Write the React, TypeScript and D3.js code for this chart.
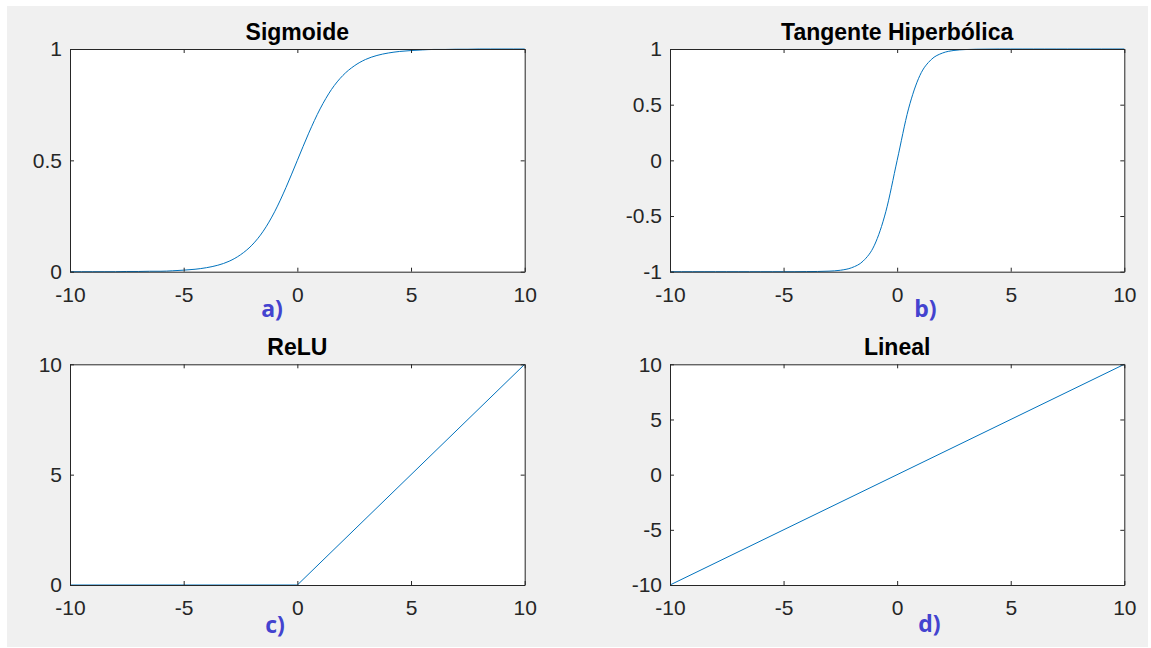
import React, { useEffect, useRef } from 'react';
import * as d3 from 'd3';

// sample points
const xSamples = [
  -10, -9.5, -9, -8.5, -8, -7.5, -7, -6.5, -6, -5.5, -5, -4.5, -4, -3.5, -3, -2.5, -2, -1.5, -1, -0.5,
  0, 0.5, 1, 1.5, 2, 2.5, 3, 3.5, 4, 4.5, 5, 5.5, 6, 6.5, 7, 7.5, 8, 8.5, 9, 9.5, 10,
];
const sigmoidValues = [
  0.0, 0.0, 0.0, 0.0, 0.0, 0.001, 0.001, 0.002, 0.002, 0.004, 0.007, 0.011, 0.018, 0.029, 0.047, 0.076, 0.119, 0.182, 0.269, 0.378,
  0.5, 0.622, 0.731, 0.818, 0.881, 0.924, 0.953, 0.971, 0.982, 0.989, 0.993, 0.996, 0.998, 0.998, 0.999, 0.999, 1.0, 1.0, 1.0, 1.0, 1.0,
];
const tanhValues = [
  -1, -1, -1, -1, -1, -1, -1, -1, -1, -1, -1, -1, -0.999, -0.998, -0.995, -0.987, -0.964, -0.905, -0.762, -0.462,
  0, 0.462, 0.762, 0.905, 0.964, 0.987, 0.995, 0.998, 0.999, 1, 1, 1, 1, 1, 1, 1, 1, 1, 1, 1, 1,
];
const reluX = [-10, 0, 10];
const reluValues = [0, 0, 10];
const linealX = [-10, 10];
const linealValues = [-10, 10];

const xTicks = [-10, -5, 0, 5, 10];
const titles = ['Sigmoide', 'Tangente Hiperbólica', 'ReLU', 'Lineal'];
const tags = ['a)', 'b)', 'c)', 'd)'];

const panels = [
  { xs: xSamples, ys: sigmoidValues, yDomain: [0, 1], yTicks: [0, 0.5, 1], curve: true },
  { xs: xSamples, ys: tanhValues, yDomain: [-1, 1], yTicks: [-1, -0.5, 0, 0.5, 1], curve: true },
  { xs: reluX, ys: reluValues, yDomain: [0, 10], yTicks: [0, 5, 10], curve: false },
  { xs: linealX, ys: linealValues, yDomain: [-10, 10], yTicks: [-10, -5, 0, 5, 10], curve: false },
];

const cols = [[70, 524.7], [670, 1124.3]];
const rows = [[49, 271.7], [364.3, 585]];
const tagPos = [[272, 317], [925.5, 317], [275, 633], [929.5, 632]];

const fmt = (d: any) => String(d);

const App = () => {
  const ref = useRef<SVGSVGElement>(null);

  useEffect(() => {
    if (!ref.current) return;
    const svg = d3.select(ref.current);
    svg.selectAll('*').remove();

    svg.append('rect').attr('x', 7).attr('y', 6).attr('width', 1141).attr('height', 641).attr('fill', '#f0f0f0');

    panels.forEach((p, i) => {
      const [left, right] = cols[i % 2];
      const [top, bottom] = rows[Math.floor(i / 2)];
      const x = d3.scaleLinear().domain([-10, 10]).range([left, right]);
      const y = d3.scaleLinear().domain(p.yDomain).range([bottom, top]);
      const g = svg.append('g');

      g.append('rect')
        .attr('x', left).attr('y', top)
        .attr('width', right - left).attr('height', bottom - top)
        .attr('fill', '#fff');

      const line = d3.line<number>()
        .x((_, k) => x(p.xs[k]))
        .y((d) => y(d))
        .curve(p.curve ? d3.curveMonotoneX : d3.curveLinear);
      g.append('path')
        .attr('d', line(p.ys))
        .attr('fill', 'none')
        .attr('stroke', '#0072bd')
        .attr('stroke-width', 1);

      const font = (sel: any) => sel.selectAll('text')
        .attr('font-family', '"Liberation Sans", Arial, sans-serif')
        .attr('font-size', 21)
        .attr('fill', '#262626');
      const stroke = (sel: any) => {
        sel.selectAll('path, line').attr('stroke', '#262626');
        sel.attr('font-family', null).attr('font-size', null);
      };

      g.append('g').attr('transform', `translate(0,${bottom})`)
        .call(d3.axisBottom(x).tickValues(xTicks).tickSize(-4).tickSizeOuter(0).tickPadding(15).tickFormat(fmt))
        .call(stroke).call(font);
      g.append('g').attr('transform', `translate(0,${top})`)
        .call(d3.axisTop(x).tickValues(xTicks).tickSize(-4).tickSizeOuter(0).tickFormat(() => ''))
        .call(stroke);
      g.append('g').attr('transform', `translate(${left},0)`)
        .call(d3.axisLeft(y).tickValues(p.yTicks).tickSize(-4).tickSizeOuter(0).tickPadding(8).tickFormat(fmt))
        .call(stroke).call(font);
      g.append('g').attr('transform', `translate(${right},0)`)
        .call(d3.axisRight(y).tickValues(p.yTicks).tickSize(-4).tickSizeOuter(0).tickFormat(() => ''))
        .call(stroke);

      g.append('text')
        .attr('x', (left + right) / 2).attr('y', top - 9)
        .attr('text-anchor', 'middle')
        .attr('font-family', '"Liberation Sans", Arial, sans-serif')
        .attr('font-weight', 'bold').attr('font-size', 23)
        .attr('fill', '#000')
        .text(titles[i]);

      g.append('text')
        .attr('x', tagPos[i][0]).attr('y', tagPos[i][1])
        .attr('text-anchor', 'middle')
        .attr('font-family', '"Open Sans", sans-serif')
        .attr('font-weight', 'bold').attr('font-size', 23)
        .attr('fill', '#4343cf')
        .text(tags[i]);
    });
  }, []);

  return (
    <svg ref={ref} width={1151} height={648}
      style={{ position: 'absolute', left: 0, top: 0, background: '#fff' }} />
  );
};

export default App;
